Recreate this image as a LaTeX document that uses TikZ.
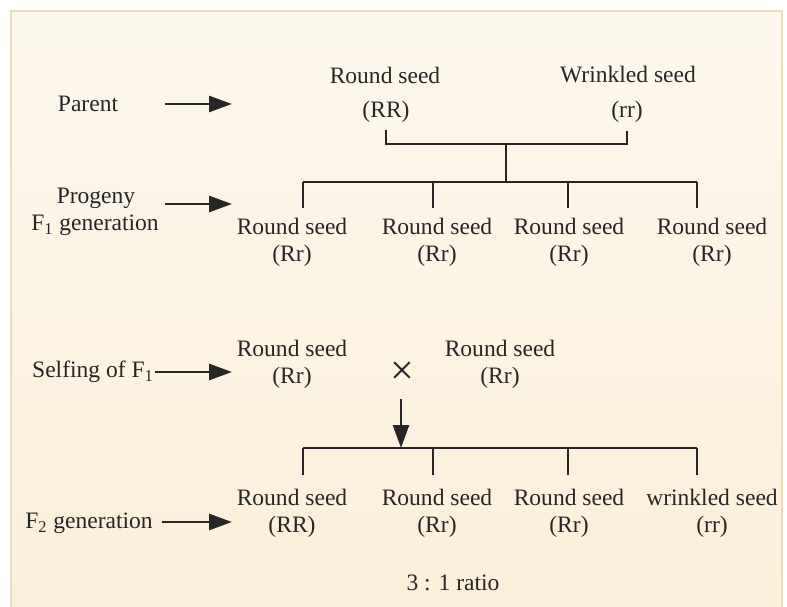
\documentclass[tikz,border=0pt]{standalone}
\usepackage{fontspec}
\setmainfont{Liberation Serif}
\usepackage{tikz}
\usetikzlibrary{arrows.meta}
\definecolor{paper}{HTML}{FBEFD9}
\definecolor{papertop}{HTML}{FDF8EE}
\definecolor{rim}{HTML}{EADCBC}
\definecolor{ink}{HTML}{262626}
\newcommand{\seedfont}{\fontsize{13.4}{17}\selectfont}

\begin{document}
\begin{tikzpicture}[x=0.02cm,y=-0.02cm,
    lbl/.style={font=\seedfont,text=ink,inner sep=0pt},
    tree/.style={draw=ink,line width=1.1pt},
    arr/.style={draw=ink,line width=1.6pt,-{Triangle[length=13pt,width=9pt]}}]
    \useasboundingbox (0,0) rectangle (787,607);
    \fill[white] (0,0) rectangle (787,607);
    \shade[top color=papertop,bottom color=paper] (11,11) rectangle (782,612);
    \draw[rim,line width=1.6pt] (11,612) -- (11,11) -- (782,11) -- (782,612);

    % row labels
    \node[lbl] (parent) at (88,104) {Parent};
    \node[lbl] (progeny) at (96,198) {Progeny};
    \node[lbl] (fone) at (95,225) {F\textsubscript{1} generation};
    \node[lbl] (selfing) at (93,372) {Selfing of F\textsubscript{1}};
    \node[lbl] (ftwo) at (89,523) {F\textsubscript{2} generation};

    % parents
    \node[lbl] (pround) at (385,75) {Round seed};
    \node[lbl] (pRR) at (386,112) {(RR)};
    \node[lbl] (pwrink) at (628,75) {Wrinkled seed};
    \node[lbl] (prr) at (627,112) {(rr)};

    % F1
    \node[lbl] (fa) at (292,226) {Round seed};
    \node[lbl] (faG) at (292,256) {(Rr)};
    \node[lbl] (fb) at (437,226) {Round seed};
    \node[lbl] (fbG) at (437,256) {(Rr)};
    \node[lbl] (fc) at (569,226) {Round seed};
    \node[lbl] (fcG) at (569,256) {(Rr)};
    \node[lbl] (fd) at (712,226) {Round seed};
    \node[lbl] (fdG) at (712,256) {(Rr)};

    % selfing
    \node[lbl] (sa) at (292,348) {Round seed};
    \node[lbl] (saG) at (292,378) {(Rr)};
    \node[lbl,font=\fontsize{24}{24}\selectfont] (cross) at (402,373) {×};
    \node[lbl] (sb) at (500,348) {Round seed};
    \node[lbl] (sbG) at (500,378) {(Rr)};

    % F2
    \node[lbl] (ga) at (292,497) {Round seed};
    \node[lbl] (gaG) at (292,527) {(RR)};
    \node[lbl] (gb) at (437,497) {Round seed};
    \node[lbl] (gbG) at (437,527) {(Rr)};
    \node[lbl] (gc) at (569,497) {Round seed};
    \node[lbl] (gcG) at (569,527) {(Rr)};
    \node[lbl] (gd) at (712,497) {wrinkled seed};
    \node[lbl] (gdG) at (712,527) {(rr)};

    \node[lbl] (ratio) at (453,583) {3 : 1 ratio};

    % junctions and arrow ends
    \coordinate (jpar) at (506,144);
    \coordinate (jone) at (506,182);
    \coordinate (aparS) at (165,104);  \coordinate (aparE) at (232,104);
    \coordinate (aproS) at (165,204);  \coordinate (aproE) at (232,204);
    \coordinate (aselS) at (155,372);  \coordinate (aselE) at (232,372);
    \coordinate (aftwS) at (162,522);  \coordinate (aftwE) at (232,522);
    \coordinate (adown) at (401,399);
    \coordinate (jtwo) at (401,448);
    \foreach \i/\x in {1/303,2/433,3/568,4/697} {
        \coordinate (d\i) at (\x,182);
        \coordinate (e\i) at (\x,448);
    }

    % parent cross
    \draw[tree] (pRR.south) ++(0,7) -- (pRR.south |- jpar) -- (prr.south |- jpar) -- ++(0,-13);
    \draw[tree] (jpar) -- (jone);
    \draw[tree] (d1) -- (d4);
    \draw[tree] (e1) -- (e4);
    \foreach \i in {1,...,4} {
        \draw[tree] (d\i) -- ++(0,26);
        \draw[tree] (e\i) -- ++(0,27);
    }

    \draw[arr] (aparS) -- (aparE);
    \draw[arr] (aproS) -- (aproE);
    \draw[arr] (aselS) -- (aselE);
    \draw[arr] (aftwS) -- (aftwE);
    \draw[arr] (adown) -- (jtwo);
\end{tikzpicture}
\end{document}
